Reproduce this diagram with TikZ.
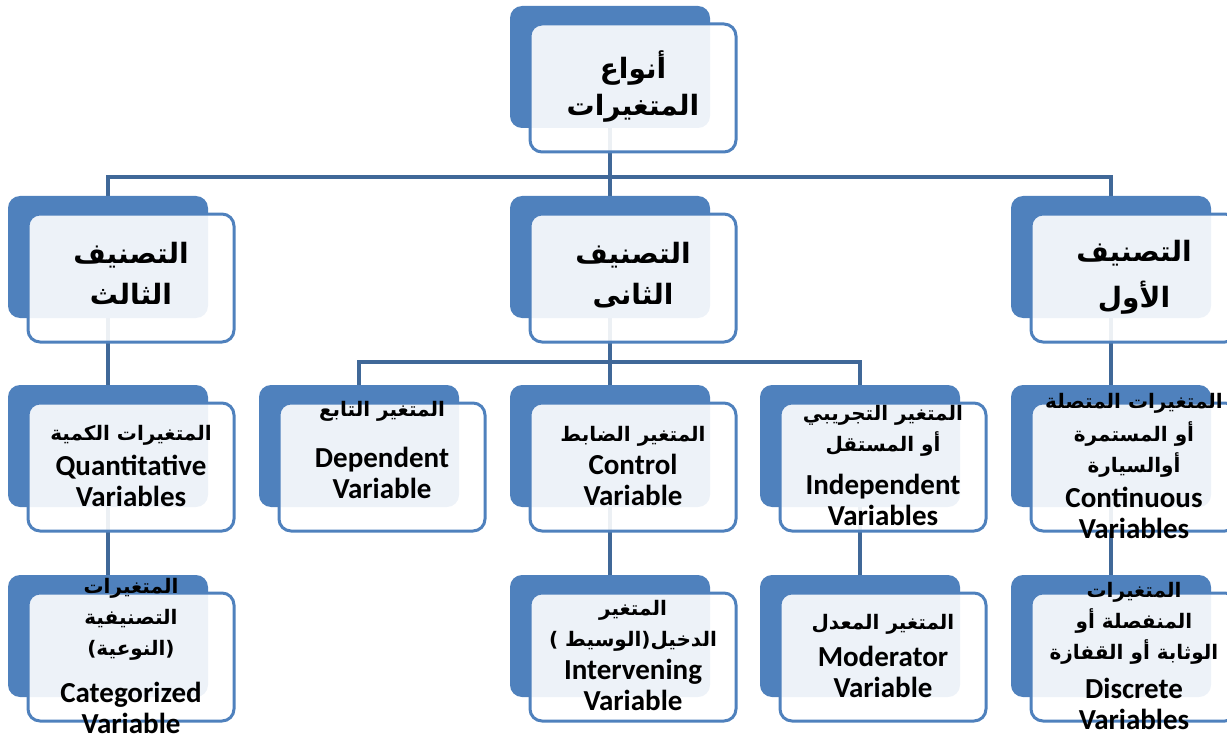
\documentclass[tikz,border=0pt]{standalone}
\usepackage{fontspec}
\setmainfont{Carlito}
\newfontfamily\arabicfont[Script=Arabic]{DejaVu Sans}
\TeXXeTstate=1
\usetikzlibrary{backgrounds}
\definecolor{boxblue}{RGB}{79,129,189}
\definecolor{lineblue}{RGB}{64,104,152}
\newcommand{\ar}[1]{{\arabicfont\fontsize{10}{15.5}\selectfont\beginR #1\endR}}
\newcommand{\arbig}[1]{{\arabicfont\fontsize{14}{20}\selectfont\beginR #1\endR}}
% text block centred in the box, not pushing it
\newcommand{\boxlines}[1]{\smash{\raisebox{-3.6pt}{\begin{tabular}{@{}c@{}}#1\end{tabular}}}}
\begin{document}
\begin{tikzpicture}[x=0.5pt, y=-0.5pt,
  back/.style={fill=boxblue, rounded corners=6pt, minimum width=100pt, minimum height=61pt},
  front/.style={draw=boxblue, line width=1.5pt, fill=white, fill opacity=0.9, text opacity=1,
    rounded corners=6pt, minimum width=103pt, minimum height=64pt, shift={(23,21)},
    font=\bfseries\fontsize{14.5}{15.5}\selectfont},
  link/.style={draw=lineblue, line width=2pt}]
\useasboundingbox (0,0) rectangle (1227,738);
% back boxes
\foreach \n/\x/\y in {root/610/67, third/108/257, second/610/257, first/1111/257,
    quant/108/446, dep/359/446, ctrl/610/446, indep/860/446, cont/1111/446,
    cat/108/636, interv/610/636, mod/860/636, disc/1111/636}
  \node[back] (\n-b) at (\x,\y) {};
% front boxes
\node[front] (root) at (root-b) {\boxlines{\arbig{أنواع}\\[3pt] \arbig{المتغيرات}}};
\node[front] (third) at (third-b) {\boxlines{\arbig{التصنيف}\\[5pt] \arbig{الثالث}}};
\node[front] (second) at (second-b) {\boxlines{\arbig{التصنيف}\\[5pt] \arbig{الثانى}}};
\node[front] (first) at (first-b) {\boxlines{\arbig{التصنيف}\\[5pt] \arbig{الأول}}};
\node[front] (quant) at (quant-b) {\boxlines{\ar{المتغيرات الكمية}\\[2pt] Quantitative\\ Variables}};
\node[front] (dep) at (dep-b) {\boxlines{\ar{المتغير التابع}\\[10pt] Dependent\\ Variable\\ \mbox{}}};
\node[front] (ctrl) at (ctrl-b) {\boxlines{\ar{المتغير الضابط}\\[1pt] Control\\ Variable}};
\node[front] (indep) at (indep-b) {\boxlines{\ar{المتغير التجريبي}\\ \ar{أو المستقل}\\[6pt] Independent\\ Variables}};
\node[front] (cont) at (cont-b) {\boxlines{\ar{المتغيرات المتصلة}\\[1pt] \ar{أو المستمرة}\\ \ar{أوالسيارة}\\[2pt] Continuous\\ Variables}};
\node[front] (cat) at (cat-b) {\boxlines{\ar{المتغيرات}\\ \ar{التصنيفية}\\ \ar{(النوعية)}\\[8pt] Categorized\\ Variable}};
\node[front] (interv) at (interv-b) {\boxlines{\ar{المتغير}\\ \ar{الدخيل(الوسيط )}\\[1pt] Intervening\\ Variable}};
\node[front] (mod) at (mod-b) {\boxlines{\ar{المتغير المعدل}\\[3pt] Moderator\\ Variable}};
\node[front] (disc) at (disc-b) {\boxlines{\ar{المتغيرات}\\ \ar{المنفصلة أو}\\ \ar{الوثابة أو القفازة}\\[4pt] Discrete\\ Variables}};
% connectors
\begin{scope}[on background layer]
  \foreach \c in {third, second, first}
    \draw[link] (root-b) -- ++(0,110) -| (\c-b);
  \foreach \c in {dep, ctrl, indep}
    \draw[link] (second-b) -- ++(0,105) -| (\c-b);
  \foreach \a/\b in {third/quant, first/cont, quant/cat, ctrl/interv, indep/mod, cont/disc}
    \draw[link] (\a-b) -- (\b-b);
\end{scope}
\end{tikzpicture}
\end{document}
